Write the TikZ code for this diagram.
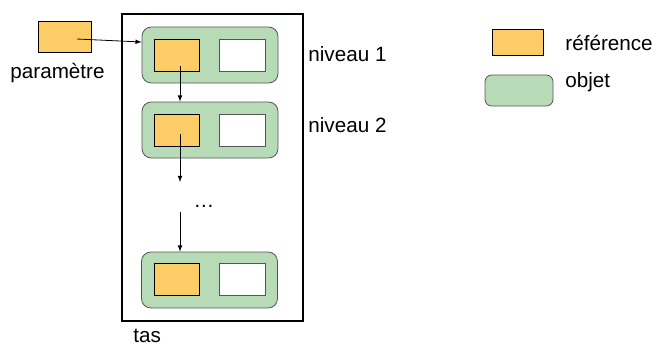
\documentclass[tikz,border=0pt]{standalone}
\usepackage{fontspec}
\setmainfont{Liberation Sans}
\definecolor{refcol}{RGB}{252,204,102}
\definecolor{objcol}{RGB}{183,218,183}
\definecolor{objline}{RGB}{85,85,85}

\begin{document}
\begin{tikzpicture}[x=0.75pt,y=-0.75pt,>=latex,line width=0.6pt,
  every node/.style={font=\fontsize{15.5}{18}\selectfont, inner sep=0pt},
  refbox/.style={draw, fill=refcol, minimum width=33.75pt, minimum height=24pt},
  valbox/.style={draw=objline, fill=white, minimum width=34.5pt, minimum height=24pt},
  objbox/.style={draw=objline, fill=objcol, rounded corners=7pt, minimum width=102pt, minimum height=42pt}]
\useasboundingbox (0,0) rectangle (656,347);

% parametre
\node[refbox, minimum width=39.75pt, minimum height=23.25pt] (param) at (64.5,36.5) {};
\node[anchor=base west] (param-label) at (10,78) {paramètre};

% le tas
\node[draw, line width=1.1pt, minimum width=135.75pt, minimum height=230.25pt] (tas) at (212.5,167.5) {};
\node[anchor=base west] (tas-label) at (133,342) {tas};

\node[objbox] (obj1) at (210,55) {};
\node[refbox] (ref1) at (176.5,55) {};
\node[valbox] (val1) at (242,55) {};
\node[anchor=base west] (niv1) at (308,61.5) {niveau 1};

\node[objbox] (obj2) at (210,130) {};
\node[refbox] (ref2) at (176.5,130) {};
\node[valbox] (val2) at (242,130) {};
\node[anchor=base west] (niv2) at (308,132.5) {niveau 2};

\node[anchor=base] (dots) at (204,207) {\dots};
\coordinate (dots-in) at (180,182);
\coordinate (dots-out) at (180,212);

\node[objbox] (obj3) at (209.5,280) {};
\node[refbox] (ref3) at (177,279.5) {};
\node[valbox] (val3) at (242,279.5) {};

% fleches
\coordinate (param-out) at (77,39);
\coordinate (ref1-out) at (180,66);
\coordinate (ref2-out) at (180,134);
\draw[->] (param-out) -- (obj1.west |- 0,42);
\draw[->] (ref1-out) -- (ref1-out |- obj2.north);
\draw[->] (ref2-out) -- (dots-in);
\draw[->] (dots-out) -- (dots-out |- obj3.north);

% legende
\node[refbox, minimum width=38.25pt, minimum height=19.5pt] (leg-ref) at (517.5,42) {};
\node[anchor=base west] (leg-ref-label) at (565,50) {référence};
\node[objbox, minimum width=51pt, minimum height=23.25pt, rounded corners=5pt] (leg-obj) at (519,90.5) {};
\node[anchor=base west] (leg-obj-label) at (565,87) {objet};
\end{tikzpicture}
\end{document}
